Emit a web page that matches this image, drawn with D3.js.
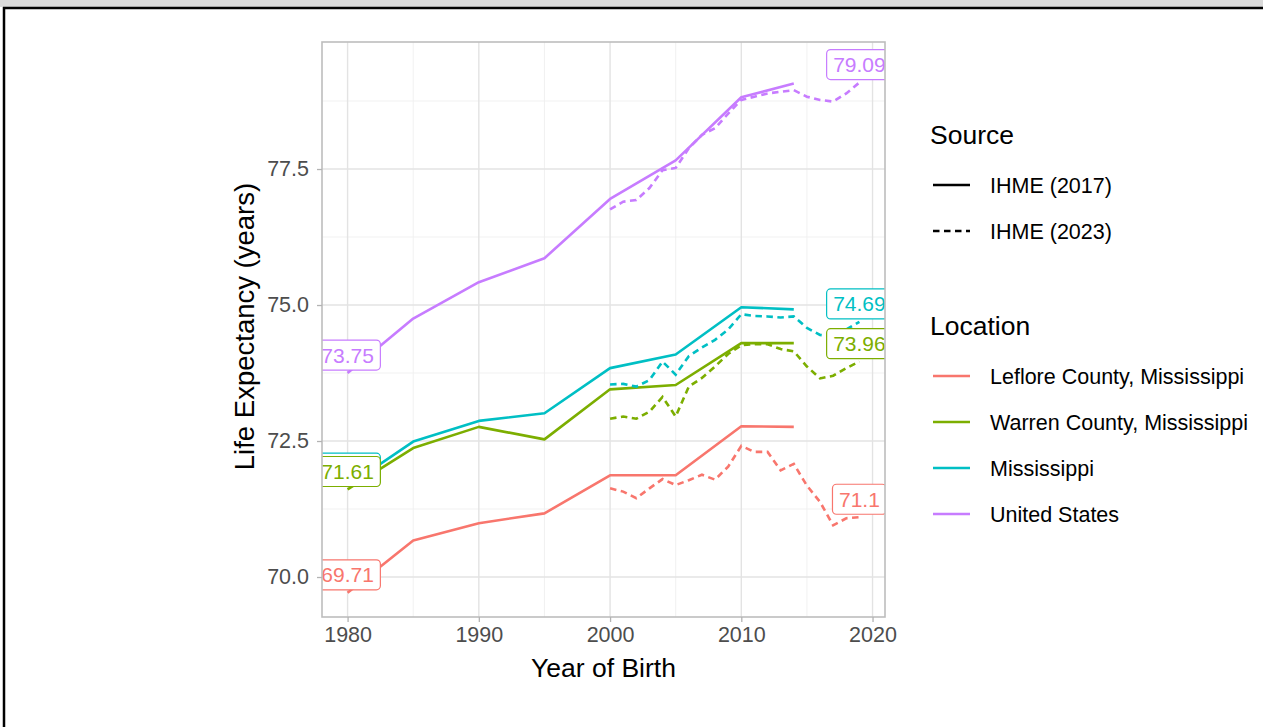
<!DOCTYPE html>
<html>
<head>
<meta charset="utf-8">
<script src="https://cdn.jsdelivr.net/npm/d3@7"></script>
<style>
  html, body { margin: 0; padding: 0; background: #ffffff; }
  svg { display: block; font-family: "Liberation Sans", Arial, Helvetica, sans-serif; }
</style>
</head>
<body>
<svg id="chart" width="1263" height="727"></svg>
<script>
// Life expectancy at birth, two IHME releases
const locations = ["Leflore County, Mississippi", "Warren County, Mississippi", "Mississippi", "United States"];
const locationColors = ["#F8766D", "#7CAE00", "#00BFC4", "#C77CFF"];
const sources = ["IHME (2017)", "IHME (2023)"];

// IHME (2017) estimates
const years2017 = [1980, 1985, 1990, 1995, 2000, 2005, 2010, 2014];
const leflore2017 = [69.71, 70.67, 70.99, 71.17, 71.87, 71.87, 72.77, 72.76];
const warren2017 = [71.61, 72.37, 72.76, 72.53, 73.45, 73.53, 74.30, 74.30];
const mississippi2017 = [71.67, 72.49, 72.87, 73.01, 73.84, 74.09, 74.96, 74.92];
const us2017 = [73.75, 74.75, 75.42, 75.86, 76.95, 77.66, 78.82, 79.07];

// IHME (2023) estimates
const years2023 = [2000, 2001, 2002, 2003, 2004, 2005, 2006, 2007, 2008, 2009,
                   2010, 2011, 2012, 2013, 2014, 2015, 2016, 2017, 2018, 2019];
const leflore2023 = [71.63, 71.57, 71.45, 71.63, 71.80, 71.69, 71.78, 71.88, 71.79, 72.03,
                     72.41, 72.30, 72.30, 71.96, 72.08, 71.68, 71.38, 70.95, 71.08, 71.10];
const warren2023 = [72.91, 72.95, 72.91, 73.04, 73.31, 72.95, 73.50, 73.66, 73.87, 74.10,
                    74.26, 74.28, 74.28, 74.19, 74.15, 73.87, 73.65, 73.70, 73.84, 73.96];
const mississippi2023 = [73.54, 73.55, 73.50, 73.62, 73.96, 73.72, 74.06, 74.22, 74.36, 74.55,
                         74.83, 74.80, 74.79, 74.77, 74.79, 74.58, 74.45, 74.42, 74.55, 74.69];
const us2023 = [76.76, 76.90, 76.93, 77.15, 77.48, 77.52, 77.88, 78.13, 78.25, 78.52,
                78.77, 78.83, 78.89, 78.92, 78.95, 78.83, 78.77, 78.74, 78.89, 79.09];

// Axis ticks
const xTicks = [1980, 1990, 2000, 2010, 2020];
const xMinorTicks = [1985, 1995, 2005, 2015];
const yTicks = [70.0, 72.5, 75.0, 77.5];
const yMinorTicks = [71.25, 73.75, 76.25, 78.75];

const series2017 = [leflore2017, warren2017, mississippi2017, us2017];
const series2023 = [leflore2023, warren2023, mississippi2023, us2023];

// ---- layout ----
const svg = d3.select("#chart");
const panel = { left: 322, right: 885, top: 42, bottom: 617 };
const FONT_SMALL = 21.5, FONT_TITLE = 26.5, FONT_YTITLE = 27.5, FONT_LABEL = 21;
const LABEL_NUDGE = 0.33;

const x = d3.scaleLinear().domain([1978.05, 2020.95]).range([panel.left, panel.right]);
const y = d3.scaleLinear().domain([69.265, 79.835]).range([panel.bottom, panel.top]);

// frame around the figure
svg.append("rect").attr("x", 0).attr("y", 0).attr("width", 1263).attr("height", 7).attr("fill", "#D9D9D9");
svg.append("line").attr("x1", 3).attr("x2", 1263).attr("y1", 8).attr("y2", 8)
  .attr("stroke", "#000").attr("stroke-width", 2.5);
svg.append("line").attr("x1", 4).attr("x2", 4).attr("y1", 7).attr("y2", 727)
  .attr("stroke", "#000").attr("stroke-width", 2.5);

// ---- grid ----
const grid = svg.append("g");
grid.selectAll(".xminor").data(xMinorTicks).join("line")
  .attr("x1", d => x(d)).attr("x2", d => x(d)).attr("y1", panel.top).attr("y2", panel.bottom)
  .attr("stroke", "#EEEEEE").attr("stroke-width", 0.9);
grid.selectAll(".yminor").data(yMinorTicks).join("line")
  .attr("y1", d => y(d)).attr("y2", d => y(d)).attr("x1", panel.left).attr("x2", panel.right)
  .attr("stroke", "#EEEEEE").attr("stroke-width", 0.9);
grid.selectAll(".xmajor").data(xTicks).join("line")
  .attr("x1", d => x(d)).attr("x2", d => x(d)).attr("y1", panel.top).attr("y2", panel.bottom)
  .attr("stroke", "#E3E3E3").attr("stroke-width", 1.4);
grid.selectAll(".ymajor").data(yTicks).join("line")
  .attr("y1", d => y(d)).attr("y2", d => y(d)).attr("x1", panel.left).attr("x2", panel.right)
  .attr("stroke", "#E3E3E3").attr("stroke-width", 1.4);

// ---- clip to panel ----
svg.append("clipPath").attr("id", "panel-clip").append("rect")
  .attr("x", panel.left).attr("y", panel.top)
  .attr("width", panel.right - panel.left).attr("height", panel.bottom - panel.top);
const plot = svg.append("g").attr("clip-path", "url(#panel-clip)");

const line = d3.line().x(d => x(d[0])).y(d => y(d[1]));

// solid lines: IHME (2017)
series2017.forEach((vals, i) => {
  plot.append("path")
    .datum(years2017.map((yr, j) => [yr, vals[j]]))
    .attr("d", line).attr("fill", "none")
    .attr("stroke", locationColors[i]).attr("stroke-width", 2.6)
    .attr("stroke-linejoin", "round");
});
// dashed lines: IHME (2023)
series2023.forEach((vals, i) => {
  plot.append("path")
    .datum(years2023.map((yr, j) => [yr, vals[j]]))
    .attr("d", line).attr("fill", "none")
    .attr("stroke", locationColors[i]).attr("stroke-width", 2.6)
    .attr("stroke-dasharray", "6.5,4.5");
});

// ---- value labels at first and last year ----
const startLabels = series2017.map((vals, i) => ({ year: years2017[0], value: vals[0], i }));
const endLabels = series2023.map((vals, i) => ({ year: years2023[years2023.length - 1], value: vals[vals.length - 1], i }));
// later labels are drawn on top; county labels come last
const labelOrder = [3, 2, 1, 0];
const labels = [];
labelOrder.forEach(i => { labels.push(startLabels[i]); });
labelOrder.forEach(i => { labels.push(endLabels[i]); });

const labelH = 30, labelPad = 6.5;
const boxes = labels.map(d => {
  const cx = x(d.year), cy = y(d.value + LABEL_NUDGE);
  return { d, cx, cy };
});
// a label whose box is almost entirely covered by a later box keeps only its frame
boxes.forEach((b, k) => {
  b.hidden = boxes.slice(k + 1).some(o => Math.abs(o.cx - b.cx) < 4 && Math.abs(o.cy - b.cy) < labelH * 0.4);
});

boxes.forEach(b => {
  const g = plot.append("g");
  const str = d3.format(".4~")(b.d.value);
  const probe = g.append("text").attr("font-size", FONT_LABEL).text(str);
  const w = probe.node().getComputedTextLength();
  probe.remove();
  g.append("rect")
    .attr("x", b.cx - w / 2 - labelPad).attr("y", b.cy - labelH / 2)
    .attr("width", w + 2 * labelPad).attr("height", labelH)
    .attr("rx", 4).attr("ry", 4)
    .attr("fill", "#ffffff")
    .attr("stroke", locationColors[b.d.i]).attr("stroke-width", 1.2);
  if (!b.hidden) {
    g.append("text")
      .attr("x", b.cx).attr("y", b.cy).attr("dy", "0.36em")
      .attr("text-anchor", "middle")
      .attr("font-size", FONT_LABEL)
      .attr("fill", locationColors[b.d.i])
      .text(str);
  }
});

// ---- panel border ----
svg.append("rect")
  .attr("x", panel.left).attr("y", panel.top)
  .attr("width", panel.right - panel.left).attr("height", panel.bottom - panel.top)
  .attr("fill", "none").attr("stroke", "#BDBDBD").attr("stroke-width", 1.6);

// ---- axes ----
const xAxis = svg.append("g").attr("transform", `translate(0,${panel.bottom})`)
  .call(d3.axisBottom(x).tickValues(xTicks).tickFormat(d3.format("d")).tickSize(5).tickPadding(5));
const yAxis = svg.append("g").attr("transform", `translate(${panel.left},0)`)
  .call(d3.axisLeft(y).tickValues(yTicks).tickFormat(d3.format(".1f")).tickSize(5).tickPadding(8));
[xAxis, yAxis].forEach(ax => {
  ax.select(".domain").remove();
  ax.selectAll(".tick line").attr("stroke", "#B3B3B3").attr("stroke-width", 1.3);
  ax.selectAll(".tick text").attr("fill", "#4D4D4D").attr("font-size", FONT_SMALL)
    .attr("font-family", "Liberation Sans, Arial, sans-serif");
});

// axis titles
svg.append("text")
  .attr("x", (panel.left + panel.right) / 2).attr("y", 677)
  .attr("text-anchor", "middle").attr("font-size", FONT_TITLE).attr("fill", "#000")
  .text("Year of Birth");
svg.append("text")
  .attr("transform", `translate(254,${(panel.top + panel.bottom) / 2 - 3}) rotate(-90)`)
  .attr("text-anchor", "middle").attr("font-size", FONT_YTITLE).attr("fill", "#000")
  .text("Life Expectancy (years)");

// ---- legends ----
const legend = svg.append("g");
const keyX1 = 933, keyX2 = 970, textX = 990;

legend.append("text").attr("x", 930).attr("y", 144)
  .attr("font-size", FONT_TITLE).attr("fill", "#000").text("Source");
const sourceY = [185, 231];
sources.forEach((s, i) => {
  legend.append("line")
    .attr("x1", keyX1).attr("x2", keyX2).attr("y1", sourceY[i]).attr("y2", sourceY[i])
    .attr("stroke", "#000").attr("stroke-width", 2.6)
    .attr("stroke-dasharray", i === 1 ? "6.5,4.5" : null);
  legend.append("text").attr("x", textX).attr("y", sourceY[i]).attr("dy", "0.36em")
    .attr("font-size", FONT_SMALL).attr("fill", "#000").text(s);
});

legend.append("text").attr("x", 930).attr("y", 335)
  .attr("font-size", FONT_TITLE).attr("fill", "#000").text("Location");
const locY = [376, 422, 468, 514];
locations.forEach((loc, i) => {
  legend.append("line")
    .attr("x1", keyX1).attr("x2", keyX2).attr("y1", locY[i]).attr("y2", locY[i])
    .attr("stroke", locationColors[i]).attr("stroke-width", 2.6);
  legend.append("text").attr("x", textX).attr("y", locY[i]).attr("dy", "0.36em")
    .attr("font-size", FONT_SMALL).attr("fill", "#000").text(loc);
});
</script>
</body>
</html>
